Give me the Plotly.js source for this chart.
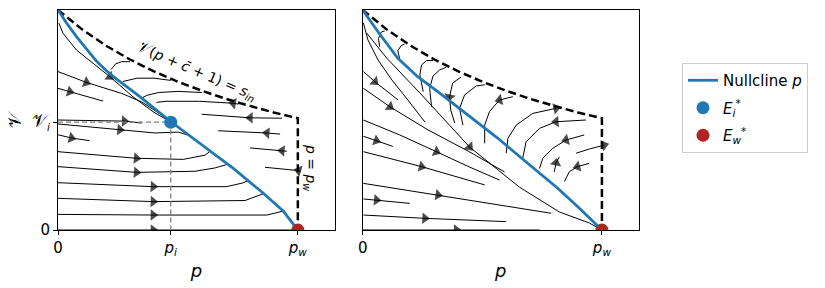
<!DOCTYPE html>
<html><head><meta charset="utf-8">
<script src="https://cdn.plot.ly/plotly-3.0.1.min.js"></script>
<style>html,body{margin:0;padding:0;background:#fff}</style>
</head><body><div id="chart" style="width:825px;height:288px"></div>
<script>
// ---- key values ----
const P_I = 0.47, V_I = 0.49, P_W = 1.0;
const SCRIPT_V = '<span style="font-size:18px">\u{1D4B1}</span>';
const xTickValsLeft = [0, P_I, P_W];
const xTickTextLeft = ['0', '<i>p<sub>i</sub></i>', '<i>p<sub>w</sub></i>'];
const xTickValsRight = [0, P_W];
const xTickTextRight = ['0', '<i>p<sub>w</sub></i>'];
const yTickVals = [0, V_I];
const yTickText = ['0', SCRIPT_V + '<sub><i>i</i></sub>'];

// ---- nullcline p (left and right panels) ----
const nullLeftP = [0, 0.035, 0.077, 0.119, 0.160, 0.202, 0.244, 0.292, 0.341, 0.471, 0.592, 0.731, 0.856, 0.940, 1.0];
const nullLeftV = [1, 0.942, 0.879, 0.821, 0.768, 0.724, 0.686, 0.647, 0.606, 0.492, 0.394, 0.280, 0.167, 0.085, 0];
const nullRightP = [0, 0.064, 0.147, 0.230, 0.314, 0.397, 0.480, 0.564, 0.647, 0.730, 0.814, 0.897, 1.0];
const nullRightV = [1, 0.901, 0.780, 0.697, 0.629, 0.560, 0.492, 0.418, 0.342, 0.267, 0.191, 0.108, 0];

// ---- admissible-region boundary ----
const boundP = [0, 0.1, 0.2, 0.3, 0.4, 0.5, 0.6, 0.7, 0.8, 0.9, 1.0, 1.0];
const boundV = [1, 0.912, 0.838, 0.775, 0.721, 0.674, 0.633, 0.596, 0.564, 0.534, 0.508, 0];

// ---- streamlines, left panel ([p, V] pairs) ----
const sL01 = [[0.004,0.94],[0.021,0.894],[0.077,0.818],[0.146,0.758],[0.216,0.697],[0.312,0.606],[0.396,0.538],[0.46,0.497]];
const sL02 = [[0,0.72],[0.118,0.671],[0.265,0.621],[0.348,0.583],[0.432,0.523],[0.465,0.496]];
const sL03 = [[0,0.644],[0.049,0.629],[0.188,0.586]];
const sL04 = [[0.30,0.765],[0.265,0.765],[0.24,0.755],[0.222,0.73]];
const sL05 = [[0.47,0.68],[0.40,0.69],[0.33,0.69],[0.29,0.682],[0.27,0.675]];
const sL06 = [[0.60,0.625],[0.50,0.63],[0.42,0.625],[0.37,0.612],[0.35,0.6]];
const sL07 = [[0.752,0.572],[0.731,0.576],[0.59,0.585],[0.45,0.585],[0.41,0.58]];
const sL08 = [[0.934,0.508],[0.801,0.51],[0.599,0.526]];
const sL09 = [[0.926,0.436],[0.871,0.441],[0.668,0.451]];
const sL10 = [[0.954,0.358],[0.934,0.36],[0.801,0.373]];
const sL11 = [[1.012,0.267],[1.003,0.27],[0.863,0.285]];
const sL12 = [[0,0.5],[0.174,0.496],[0.277,0.495],[0.348,0.486]];
const sL13 = [[0,0.482],[0.258,0.456],[0.404,0.441],[0.501,0.445],[0.54,0.432]];
const sL14 = [[0,0.433],[0.056,0.418],[0.132,0.406]];
const sL15 = [[0,0.356],[0.327,0.326],[0.522,0.321],[0.613,0.34],[0.634,0.358]];
const sL16 = [[0,0.288],[0.327,0.262],[0.571,0.267],[0.654,0.282],[0.705,0.298]];
const sL17 = [[0,0.215],[0.397,0.197],[0.703,0.197],[0.771,0.214],[0.797,0.227]];
const sL18 = [[0,0.144],[0.397,0.129],[0.78,0.134],[0.834,0.155],[0.859,0.166]];
const sL19 = [[0,0.071],[0.397,0.068],[0.871,0.068],[0.919,0.083],[0.939,0.086]];
const sL20 = [[0,0],[0.397,0],[1,0]];
const leftStreams = [sL01,sL02,sL03,sL04,sL05,sL06,sL07,sL08,sL09,sL10,sL11,sL12,sL13,sL14,sL15,sL16,sL17,sL18,sL19,sL20];
const leftArrows  = [4,1,1,null,null,null,1,1,1,1,1,2,1,1,1,1,1,1,1,1];

// ---- streamlines, right panel ----
const sR01 = [[0.092,0.905],[0.078,0.9],[0.066,0.87],[0.071,0.833]];
const sR02 = [[0.175,0.845],[0.161,0.838],[0.147,0.815],[0.154,0.78]];
const sR03 = [[0.294,0.77],[0.267,0.77],[0.246,0.75],[0.239,0.705],[0.253,0.629]];
const sR04 = [[0.35,0.74],[0.322,0.728],[0.294,0.7],[0.28,0.644],[0.288,0.56]];
const sR05 = [[0.411,0.695],[0.376,0.668],[0.363,0.605],[0.368,0.545],[0.385,0.486]];
const sR06 = [[0.51,0.66],[0.475,0.655],[0.426,0.614],[0.405,0.553],[0.419,0.477]];
const sR07 = [[0.628,0.606],[0.572,0.591],[0.53,0.538],[0.51,0.477],[0.51,0.394]];
const sR08 = [[0.6,0.349],[0.607,0.417],[0.642,0.477],[0.711,0.53],[0.808,0.553]];
const sR09 = [[0.933,0.5],[0.808,0.492],[0.739,0.462],[0.683,0.401],[0.669,0.326]];
const sR10 = [[0.926,0.432],[0.85,0.409],[0.794,0.371],[0.753,0.326],[0.739,0.28]];
const sR11 = [[0.947,0.303],[0.898,0.288],[0.864,0.265],[0.843,0.22]];
const sR12 = [[0.892,0.349],[0.947,0.368],[1.01,0.386]];
const sR13 = [[0.801,0.264],[0.808,0.305],[0.822,0.332]];
const sR14 = [[0.003,0.941],[0.022,0.864],[0.064,0.773],[0.122,0.682],[0.189,0.591],[0.26,0.491]];
const sR15 = [[0.017,0.895],[0.1,0.782],[0.239,0.623],[0.447,0.377],[0.655,0.195],[0.822,0.082],[0.947,0.032],[1,0]];
const sR16 = [[0.003,0.72],[0.051,0.674],[0.148,0.591]];
const sR17 = [[0.003,0.644],[0.114,0.56],[0.273,0.455],[0.447,0.355],[0.593,0.264]];
const sR18 = [[0.003,0.5],[0.155,0.432],[0.308,0.356],[0.447,0.286],[0.572,0.227]];
const sR19 = [[0.003,0.426],[0.057,0.406],[0.126,0.38]];
const sR20 = [[0.003,0.356],[0.246,0.288],[0.51,0.205]];
const sR21 = [[0.003,0.212],[0.315,0.159],[0.788,0.076]];
const sR22 = [[0.003,0.141],[0.058,0.136],[0.197,0.121]];
const sR23 = [[0.003,0.068],[0.26,0.053],[0.6,0.038]];
const sR24 = [[0,0],[0.392,0],[0.74,0]];
const rightStreams = [sR01,sR02,sR03,sR04,sR05,sR06,sR07,sR08,sR09,sR10,sR11,sR12,sR13,sR14,sR15,sR16,sR17,sR18,sR19,sR20,sR21,sR22,sR23,sR24];
const rightArrows  = [null,null,null,null,2,null,1,4,1,1,1,2,1,null,3,1,1,2,1,1,1,1,1,1];

// ---- colours ----
const BLUE = '#1f77b4', RED = '#b22222';

const traces = [];
function addStream(s, xa, ya, k) {
  traces.push({type:'scatter', mode:'lines', x:s.map(d=>d[0]), y:s.map(d=>d[1]), xaxis:xa, yaxis:ya,
    line:{color:'#000', width:1}, showlegend:false, hoverinfo:'skip'});
  if (k !== null && k !== undefined) {
    const a = s[k-1], b = s[k];
    traces.push({type:'scatter', mode:'markers', x:[a[0], b[0]], y:[a[1], b[1]], xaxis:xa, yaxis:ya,
      marker:{symbol:'triangle-up', size:[0,10], color:'#000', angleref:'previous', angle:0, line:{width:0}},
      showlegend:false, hoverinfo:'skip'});
  }
}
leftStreams.forEach((s,i)=>addStream(s,'x','y',leftArrows[i]));
rightStreams.forEach((s,i)=>addStream(s,'x2','y2',rightArrows[i]));

// guide lines to E_i
traces.push({type:'scatter', mode:'lines', x:[0, P_I, P_I], y:[V_I, V_I, 0], xaxis:'x', yaxis:'y',
  line:{color:'#808080', width:1.3, dash:'5px,3px'}, showlegend:false, hoverinfo:'skip'});
// boundaries
traces.push({type:'scatter', mode:'lines', x:boundP, y:boundV, xaxis:'x', yaxis:'y',
  line:{color:'#000', width:2.5, dash:'8px,4px'}, showlegend:false, hoverinfo:'skip'});
traces.push({type:'scatter', mode:'lines', x:boundP, y:boundV, xaxis:'x2', yaxis:'y2',
  line:{color:'#000', width:2.5, dash:'8px,4px'}, showlegend:false, hoverinfo:'skip'});
// nullclines
traces.push({type:'scatter', mode:'lines', x:nullLeftP, y:nullLeftV, xaxis:'x', yaxis:'y',
  line:{color:BLUE, width:2.8}, name:'Nullcline <i>p</i>', showlegend:true, legendgroup:'a'});
traces.push({type:'scatter', mode:'lines', x:nullRightP, y:nullRightV, xaxis:'x2', yaxis:'y2',
  line:{color:BLUE, width:2.8}, showlegend:false});
// equilibria
traces.push({type:'scatter', mode:'markers', x:[P_I], y:[V_I], xaxis:'x', yaxis:'y',
  marker:{color:BLUE, size:13}, name:'<i>E<sub>i</sub><sup>*</sup></i>', showlegend:true, legendgroup:'b'});
traces.push({type:'scatter', mode:'markers', x:[P_W], y:[0], xaxis:'x', yaxis:'y',
  marker:{color:RED, size:13}, name:'<i>E<sub>w</sub><sup>*</sup></i>', showlegend:true, legendgroup:'c'});
traces.push({type:'scatter', mode:'markers', x:[P_W], y:[0], xaxis:'x2', yaxis:'y2',
  marker:{color:RED, size:13}, showlegend:false});

const axBase = {showline:true, mirror:true, linecolor:'#000', linewidth:1, showgrid:false, zeroline:false,
  ticks:'outside', ticklen:4, tickcolor:'#000', tickwidth:1, range:[0,1.155]};

const layout = {
  width:825, height:288, margin:{l:58, r:186, t:10, b:58},
  paper_bgcolor:'#fff', plot_bgcolor:'#fff',
  font:{family:'DejaVu Sans', size:15, color:'#000'},
  xaxis:Object.assign({}, axBase, {domain:[0,0.4768], anchor:'y', tickmode:'array', tickvals:xTickValsLeft, ticktext:xTickTextLeft,
    title:{text:'<i>p</i>', standoff:7}}),
  yaxis:Object.assign({}, axBase, {domain:[0,1], anchor:'x', range:[0,1], tickmode:'array', tickvals:yTickVals, ticktext:yTickText,
    title:{text:'\u{1D4B1}', standoff:5, font:{size:18}}}),
  xaxis2:Object.assign({}, axBase, {domain:[0.5244,1], anchor:'y2', tickmode:'array', tickvals:xTickValsRight, ticktext:xTickTextRight,
    title:{text:'<i>p</i>', standoff:7}}),
  yaxis2:Object.assign({}, axBase, {domain:[0,1], anchor:'x2', range:[0,1], ticks:'', showticklabels:false}),
  legend:{x:1.074, y:0.759, xanchor:'left', yanchor:'top', bordercolor:'#cccccc', borderwidth:1,
    bgcolor:'#fff', font:{size:15}, traceorder:'grouped', tracegroupgap:5},
  annotations:[
    {xref:'x', yref:'y', x:0.581, y:0.723, text:'<span style="font-size:16px">\u{1D4B1}</span>(<i>p</i> + <i>c\u0304</i> + 1) = <i>s<sub>in</sub></i>',
     showarrow:false, textangle:23, font:{size:14}},
    {xref:'x', yref:'y', x:1.051, y:0.282, text:'<i>p</i> = <i>p<sub>w</sub></i>',
     showarrow:false, textangle:90, font:{size:14}}
  ]
};

Plotly.newPlot('chart', traces, layout, {displayModeBar:false, staticPlot:true});
</script>
</body></html>
